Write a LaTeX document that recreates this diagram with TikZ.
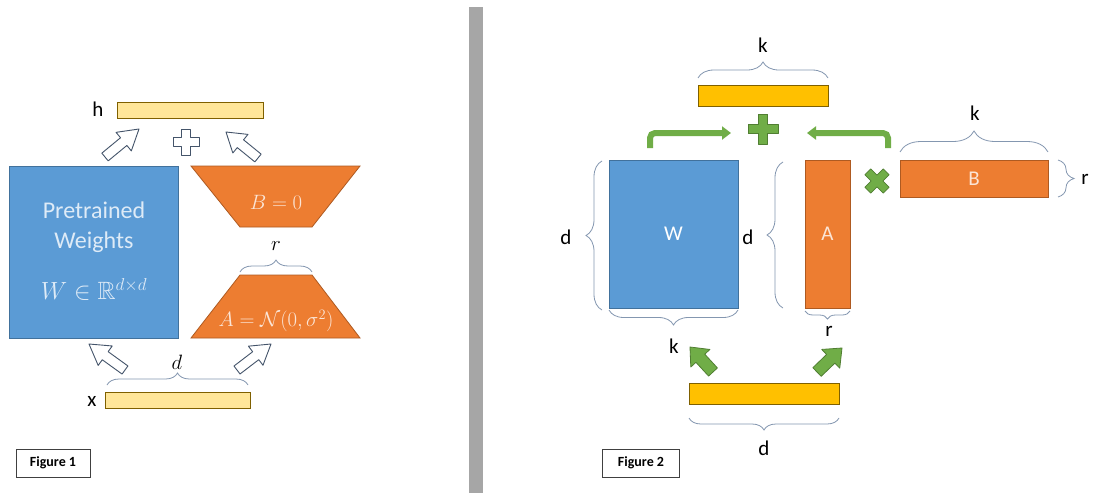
\documentclass[tikz,border=0pt]{standalone}
\usepackage{fontspec}
\setmainfont{Carlito}
\usepackage{amssymb}
\usetikzlibrary{calc,arrows.meta,decorations.pathreplacing}

\definecolor{wblue}{HTML}{5B9BD5}
\definecolor{wblueline}{HTML}{41719C}
\definecolor{lora}{HTML}{ED7D31}
\definecolor{loraline}{HTML}{AE5A21}
\definecolor{paleyellow}{HTML}{FFE699}
\definecolor{goldyellow}{HTML}{FFC000}
\definecolor{barline}{HTML}{7F6000}
\definecolor{leafgreen}{HTML}{70AD47}
\definecolor{leafline}{HTML}{507E32}
\definecolor{bracecol}{HTML}{8497B0}
\definecolor{slate}{HTML}{44546A}
\definecolor{divider}{HTML}{A6A6A6}
\definecolor{paletext}{HTML}{DEEBF7}
\definecolor{peachtext}{HTML}{FBE5D6}

% fat block arrow from a tail coordinate to a tip coordinate
\newcommand{\blockarrow}[5][]{%
  \coordinate (ba) at ($(#2)!0.55!(#3)$);
  \path[#1] ($(#2)!#4!90:(#3)$) -- ($(ba)!#4!90:(#3)$) -- ($(ba)!#5!90:(#3)$) -- (#3)
    -- ($(ba)!#5!-90:(#3)$) -- ($(ba)!#4!-90:(#3)$) -- ($(#2)!#4!-90:(#3)$) -- cycle;}

\tikzset{
  vecbar/.style={draw=barline, line width=0.8pt, fill=#1, inner sep=0pt},
  vecbar/.default=paleyellow,
  matbox/.style={draw=wblueline, line width=0.8pt, fill=wblue, inner sep=0pt,
    text=white, font=\fontsize{21}{24}\selectfont},
  adaptbox/.style={draw=loraline, line width=0.8pt, fill=lora, inner sep=0pt,
    text=peachtext, font=\fontsize{21}{24}\selectfont},
  adaptshape/.style={draw=loraline, line width=0.8pt, fill=lora},
  dimbrace/.style={decorate, decoration={brace, amplitude=#1}, draw=bracecol, line width=0.8pt},
  hollowarrow/.style={draw=slate, line width=0.9pt, fill=white, line join=round},
  greenarrow/.style={draw=leafline, line width=0.8pt, fill=leafgreen, line join=round},
  bentarrow/.style={leafgreen, line width=6pt, rounded corners=5pt,
    -{Triangle[length=9pt,width=13pt]}},
  caption/.style={draw=black!75, line width=0.8pt, inner sep=0pt, minimum width=#1,
    minimum height=28pt, font=\fontsize{14}{16}\selectfont\bfseries},
  sflabel/.style={font=\fontsize{21}{24}\selectfont},
  mathlabel/.style={font=\fontsize{21}{24}\selectfont},
  plusmark/.pic={
    \path[pic actions] (-1,-0.32) -- (-0.32,-0.32) -- (-0.32,-1) -- (0.32,-1) -- (0.32,-0.32)
      -- (1,-0.32) -- (1,0.32) -- (0.32,0.32) -- (0.32,1) -- (-0.32,1) -- (-0.32,0.32)
      -- (-1,0.32) -- cycle;}
}

\begin{document}
\begin{tikzpicture}[x=1pt, y=-1pt]
  \useasboundingbox[fill=white] (0,0) rectangle (1095,493);

  % ---------------- Figure 1 ----------------
  \node[vecbar, minimum width=146pt, minimum height=16pt] (h) at (190,110) {};
  \node[sflabel] (hlab) at (98,109) {h};

  % pretrained weights
  \node[matbox, minimum width=169pt, minimum height=172pt] (pw) at (93.5,252) {};
  \node[matbox, draw=none, fill=none, text=paletext, font=\fontsize{24}{26}\selectfont] (pwa) at (94,210) {Pretrained};
  \node[matbox, draw=none, fill=none, text=paletext, font=\fontsize{24}{26}\selectfont] (pwb) at (94,242) {Weights};
  \node[matbox, draw=none, fill=none, text=paletext, font=\fontsize{25}{27}\selectfont] (pwc) at (94,289) {$W \in \mathbb{R}^{d\times d}$};

  % low rank pair
  \draw[adaptshape] (191,166) -- (360,166) -- (312,227) -- (240,227) -- cycle;
  \node[mathlabel, text=peachtext] (bzero) at (276,202) {$B = 0$};
  \draw[adaptshape] (240,275) -- (312,275) -- (360,338) -- (191,338) -- cycle;
  \node[mathlabel, text=peachtext] (agauss) at (276,321) {$A = \mathcal{N}(0,\sigma^2)$};

  \draw[dimbrace=12pt] (240,272) -- (312,272);
  \node[mathlabel] (rlab) at (276,246) {$r$};

  \node[vecbar, minimum width=145pt, minimum height=16pt] (x) at (177.5,400) {};
  \node[sflabel] (xlab) at (92,401) {x};
  \draw[dimbrace=12pt] (107,385) -- (248,385);
  \node[mathlabel] (dlab) at (177,362) {$d$};

  % hollow arrows and plus
  \coordinate (ult) at (105,157); \coordinate (ulh) at (139,129);
  \coordinate (urt) at (258,158); \coordinate (urh) at (226,132);
  \coordinate (llt) at (125,370); \coordinate (llh) at (89,344);
  \coordinate (lrt) at (237,370); \coordinate (lrh) at (271,344);
  \blockarrow[hollowarrow]{ult}{ulh}{5pt}{12pt}
  \blockarrow[hollowarrow]{urt}{urh}{5pt}{12pt}
  \blockarrow[hollowarrow]{llt}{llh}{5pt}{12pt}
  \blockarrow[hollowarrow]{lrt}{lrh}{5pt}{12pt}
  \pic[hollowarrow, scale=13] at (186,142) {plusmark};

  \node[caption=74pt] (fig1) at (53,463) {Figure 1};

  % separator
  \fill[divider] (469,7) rectangle (483,493);

  % ---------------- Figure 2 ----------------
  \node[vecbar=goldyellow, minimum width=130pt, minimum height=21pt] (hout) at (763,95.5) {};
  \draw[dimbrace=16pt] (698,78) -- (828,78);
  \node[sflabel] (kout) at (763,45) {k};
  \pic[greenarrow, scale=15] at (763,129) {plusmark};

  \node[matbox, minimum width=129pt, minimum height=148pt] (W) at (673.5,234) {W};
  \node[adaptbox, minimum width=45pt, minimum height=148pt] (A) at (827.5,234) {A};
  \node[adaptbox, minimum width=148pt, minimum height=37pt] (B) at (974,178.5) {B};
  \pic[greenarrow, scale=13, rotate=45] at (877,181) {plusmark};

  % bent arrows into the sum
  \coordinate (wtop) at (650,148); \coordinate (plusl) at (731,133);
  \coordinate (btop) at (888,148); \coordinate (plusr) at (807,133);
  \draw[bentarrow] (wtop) |- (plusl);
  \draw[bentarrow] (btop) |- (plusr);

  % dimensions of W
  \draw[dimbrace=16pt] (602,310) -- (602,161);
  \node[sflabel] (dw) at (566,237) {d};
  \draw[dimbrace=15pt] (738,310) -- (609,310);
  \node[sflabel] (kw) at (674,346) {k};

  % dimensions of A and B
  \draw[dimbrace=16pt] (783,308) -- (783,162);
  \node[sflabel] (da) at (748,237) {d};
  \draw[dimbrace=8pt] (850,311) -- (805,311);
  \node[sflabel] (ra) at (829,331) {r};
  \draw[dimbrace=21pt] (900,152) -- (1048,152);
  \node[sflabel] (kb) at (975,113) {k};
  \draw[dimbrace=16pt] (1058,160) -- (1058,197);
  \node[sflabel] (rb) at (1085,179) {r};

  % input
  \node[vecbar=goldyellow, minimum width=150pt, minimum height=21pt] (hin) at (764,393.5) {};
  \draw[dimbrace=12pt] (839,418) -- (689,418);
  \node[sflabel] (din) at (764,448) {d};
  \coordinate (glt) at (713,372); \coordinate (glh) at (690,347);
  \coordinate (grt) at (817,372); \coordinate (grh) at (842,348);
  \blockarrow[greenarrow]{glt}{glh}{6pt}{13pt}
  \blockarrow[greenarrow]{grt}{grh}{6pt}{13pt}

  \node[caption=77pt] (fig2) at (641,463) {Figure 2};
\end{tikzpicture}
\end{document}
